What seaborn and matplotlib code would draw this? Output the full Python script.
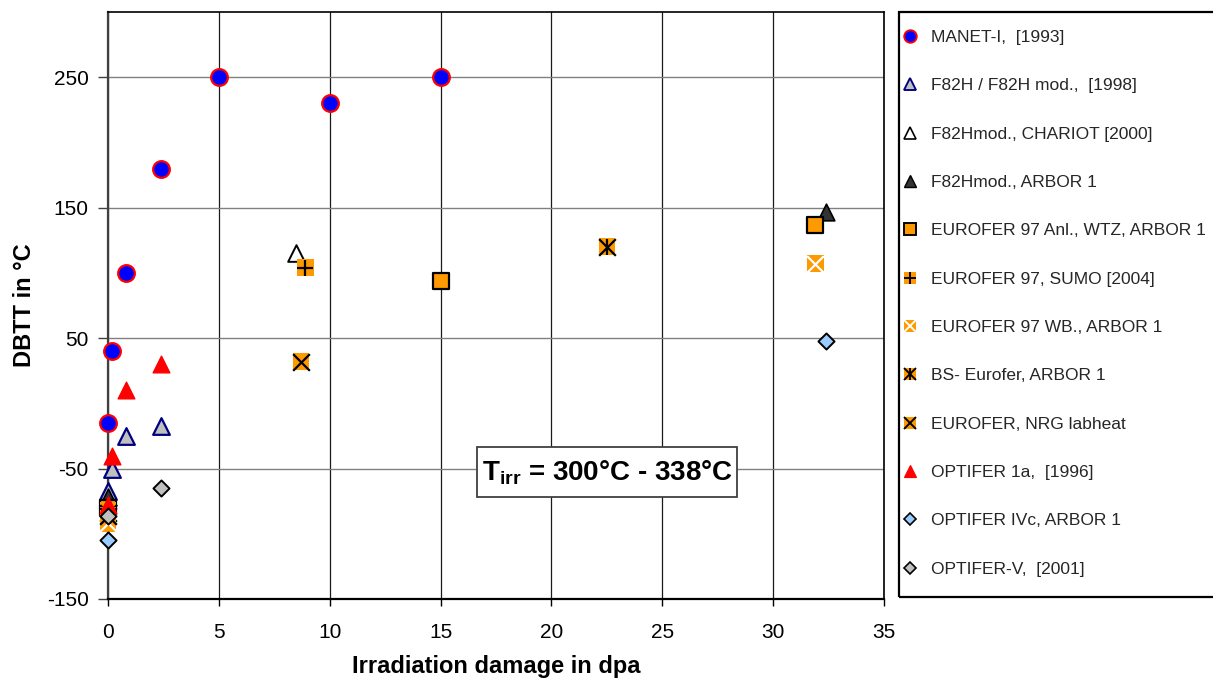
import matplotlib
matplotlib.use("Agg")
import matplotlib.pyplot as plt
import pandas as pd
import seaborn as sns
from matplotlib.lines import Line2D
from matplotlib.patches import Rectangle
from matplotlib.legend_handler import HandlerTuple

sns.set_theme(style="white")
plt.rcParams["font.family"] = ["Liberation Sans", "DejaVu Sans"]
plt.rcParams["mathtext.fontset"] = "custom"
plt.rcParams["mathtext.rm"] = "Liberation Sans"
plt.rcParams["mathtext.bf"] = "Liberation Sans:bold"
plt.rcParams["axes.unicode_minus"] = False

# ---- data: irradiation damage (dpa) vs. DBTT (°C) ----
manet_dpa = [0, 0.2, 0.8, 2.4, 5, 10, 15]
manet_dbtt = [-15, 40, 100, 180, 250, 230, 250]

f82h_dpa = [0, 0.2, 0.8, 2.4]
f82h_dbtt = [-67, -50, -25, -17]

chariot_dpa = [8.5]
chariot_dbtt = [115]

f82h_arbor_dpa = [0, 32.4]
f82h_arbor_dbtt = [-72, 147]

wtz_dpa = [0, 15, 31.9]
wtz_dbtt = [-80, 94, 137]

sumo_dpa = [0, 8.9]
sumo_dbtt = [-82, 104]

wb_dpa = [0, 31.9]
wb_dbtt = [-92, 107]

bs_dpa = [0, 22.5]
bs_dbtt = [-84, 120]

nrg_dpa = [0, 8.7]
nrg_dbtt = [-86, 32]

opt1a_dpa = [0, 0.2, 0.8, 2.4]
opt1a_dbtt = [-78, -40, 10, 30]

optivc_dpa = [0, 32.4]
optivc_dbtt = [-105, 48]

optv_dpa = [0, 2.4]
optv_dbtt = [-86, -65]

labels = [
    "MANET-I,  [1993]",
    "F82H / F82H mod.,  [1998]",
    "F82Hmod., CHARIOT [2000]",
    "F82Hmod., ARBOR 1",
    "EUROFER 97 Anl., WTZ, ARBOR 1",
    "EUROFER 97, SUMO [2004]",
    "EUROFER 97 WB., ARBOR 1",
    "BS- Eurofer, ARBOR 1",
    "EUROFER, NRG labheat",
    "OPTIFER 1a,  [1996]",
    "OPTIFER IVc, ARBOR 1",
    "OPTIFER-V,  [2001]",
]

ORANGE = "#FF9900"

# each series: (x, y, list of marker layers); a layer is
# (marker, face, edge, linewidth, size in pt)
series = [
    (manet_dpa, manet_dbtt, [("o", "#0000FF", "#FF0000", 1.6, 12)]),
    (f82h_dpa, f82h_dbtt, [("^", "#C0C0C0", "#000080", 1.6, 12)]),
    (chariot_dpa, chariot_dbtt, [("^", "#FFFFFF", "#000000", 1.4, 12)]),
    (f82h_arbor_dpa, f82h_arbor_dbtt, [("^", "#333333", "#000000", 1.2, 12)]),
    (wtz_dpa, wtz_dbtt, [("s", ORANGE, "#000000", 1.6, 11.5)]),
    (sumo_dpa, sumo_dbtt, [("s", ORANGE, "none", 0, 12), ("+", None, "#000000", 1.6, 12)]),
    (wb_dpa, wb_dbtt, [("s", ORANGE, "none", 0, 12), ("x", None, "#FFFFFF", 1.6, 12)]),
    (bs_dpa, bs_dbtt, [("s", ORANGE, "none", 0, 12), ("x", None, "#000000", 1.6, 12),
                       ("|", None, "#000000", 1.6, 12)]),
    (nrg_dpa, nrg_dbtt, [("s", ORANGE, "none", 0, 12), ("x", None, "#000000", 1.6, 12)]),
    (opt1a_dpa, opt1a_dbtt, [("^", "#FF0000", "#FF0000", 1.0, 12)]),
    (optivc_dpa, optivc_dbtt, [("D", "#99CCFF", "#000000", 1.4, 8.2)]),
    (optv_dpa, optv_dbtt, [("D", "#C0C0C0", "#000000", 1.4, 8.2)]),
]

W, H = 1213, 679
fig = plt.figure(figsize=(W / 100, H / 100), dpi=100)
ax = fig.add_axes([108 / W, 1 - 599 / H, (884 - 108) / W, (599 - 12) / H])

handles = []
z = 3
for x, y, layers in series:
    df = pd.DataFrame({"dpa": x, "dbtt": y})
    parts = []
    for marker, face, edge, lw, size in layers:
        if face is None:
            sns.scatterplot(data=df, x="dpa", y="dbtt", ax=ax, marker=marker,
                            color=edge, linewidth=lw, s=size ** 2,
                            legend=False, zorder=z, clip_on=False)
            parts.append(Line2D([], [], ls="none", marker=marker, color=edge,
                                markeredgewidth=lw * 0.85, markersize=size * 0.75))
        else:
            sns.scatterplot(data=df, x="dpa", y="dbtt", ax=ax, marker=marker,
                            color=face, edgecolor=edge, linewidth=lw, s=size ** 2,
                            legend=False, zorder=z, clip_on=False)
            parts.append(Line2D([], [], ls="none", marker=marker,
                                markerfacecolor=face, markeredgecolor=edge,
                                markeredgewidth=lw * 0.85, markersize=size * 0.75))
        z += 0.01
    z += 1
    handles.append(tuple(parts))

# axes, grid and ticks
ax.set_xlim(0, 35)
ax.set_ylim(-150, 300)
ax.set_xticks(range(0, 36, 5))
ax.set_yticks([-150, -50, 50, 150, 250])
ax.set_axisbelow(True)
ax.yaxis.grid(True, color="#808080", linewidth=1.0)
ax.xaxis.grid(True, color="#1a1a1a", linewidth=0.9)
for side in ("top", "right"):
    ax.spines[side].set_color("#000000")
    ax.spines[side].set_linewidth(1.2)
ax.spines["left"].set_color("#404040")
ax.spines["left"].set_linewidth(1.6)
ax.spines["bottom"].set_color("#000000")
ax.spines["bottom"].set_linewidth(1.6)
ax.tick_params(axis="x", which="major", direction="out", bottom=True,
               length=5, width=1, color="black", labelsize=15, pad=12,
               labelcolor="black")
ax.tick_params(axis="y", which="major", direction="out", left=True,
               length=7, width=1, color="#404040", labelsize=15, pad=7,
               labelcolor="black")
ax.set_xlabel("")
ax.set_ylabel("")

fig.text(496 / W, 1 - 667 / H, "Irradiation damage in dpa", ha="center",
         va="center", fontsize=17, fontweight="bold", color="black")
fig.text(25 / W, 1 - 305 / H, "DBTT in °C", ha="center", va="center",
         rotation=90, fontsize=17, fontweight="bold", color="black")

# irradiation temperature note in a framed box
ax.add_patch(Rectangle((0.4755, 0.1738), 0.3351, 0.0851, transform=ax.transAxes,
                       facecolor="white", edgecolor="#404040", linewidth=1.3,
                       zorder=29))
ax.text(0.643, 0.2027, r"$\mathbf{T_{irr}}$ = 300°C - 338°C", ha="center",
        va="baseline", fontsize=20, fontweight="bold", color="black",
        zorder=30, transform=ax.transAxes)

# legend in a framed panel on the right
fig.patches.append(Rectangle((899 / W, 1 - 597 / H), 0.4, (597 - 12) / H,
                             transform=fig.transFigure, fill=False,
                             edgecolor="black", linewidth=1.6))
fig.legend(handles, labels, loc="upper left",
           bbox_to_anchor=(900 / W, 1 - 30 / H), frameon=False,
           fontsize=12.5, labelspacing=1.91, handlelength=1.2,
           handletextpad=0.6, borderaxespad=0, borderpad=0,
           handler_map={tuple: HandlerTuple(ndivide=1, pad=0)})

fig.savefig("out.png", dpi=100)
